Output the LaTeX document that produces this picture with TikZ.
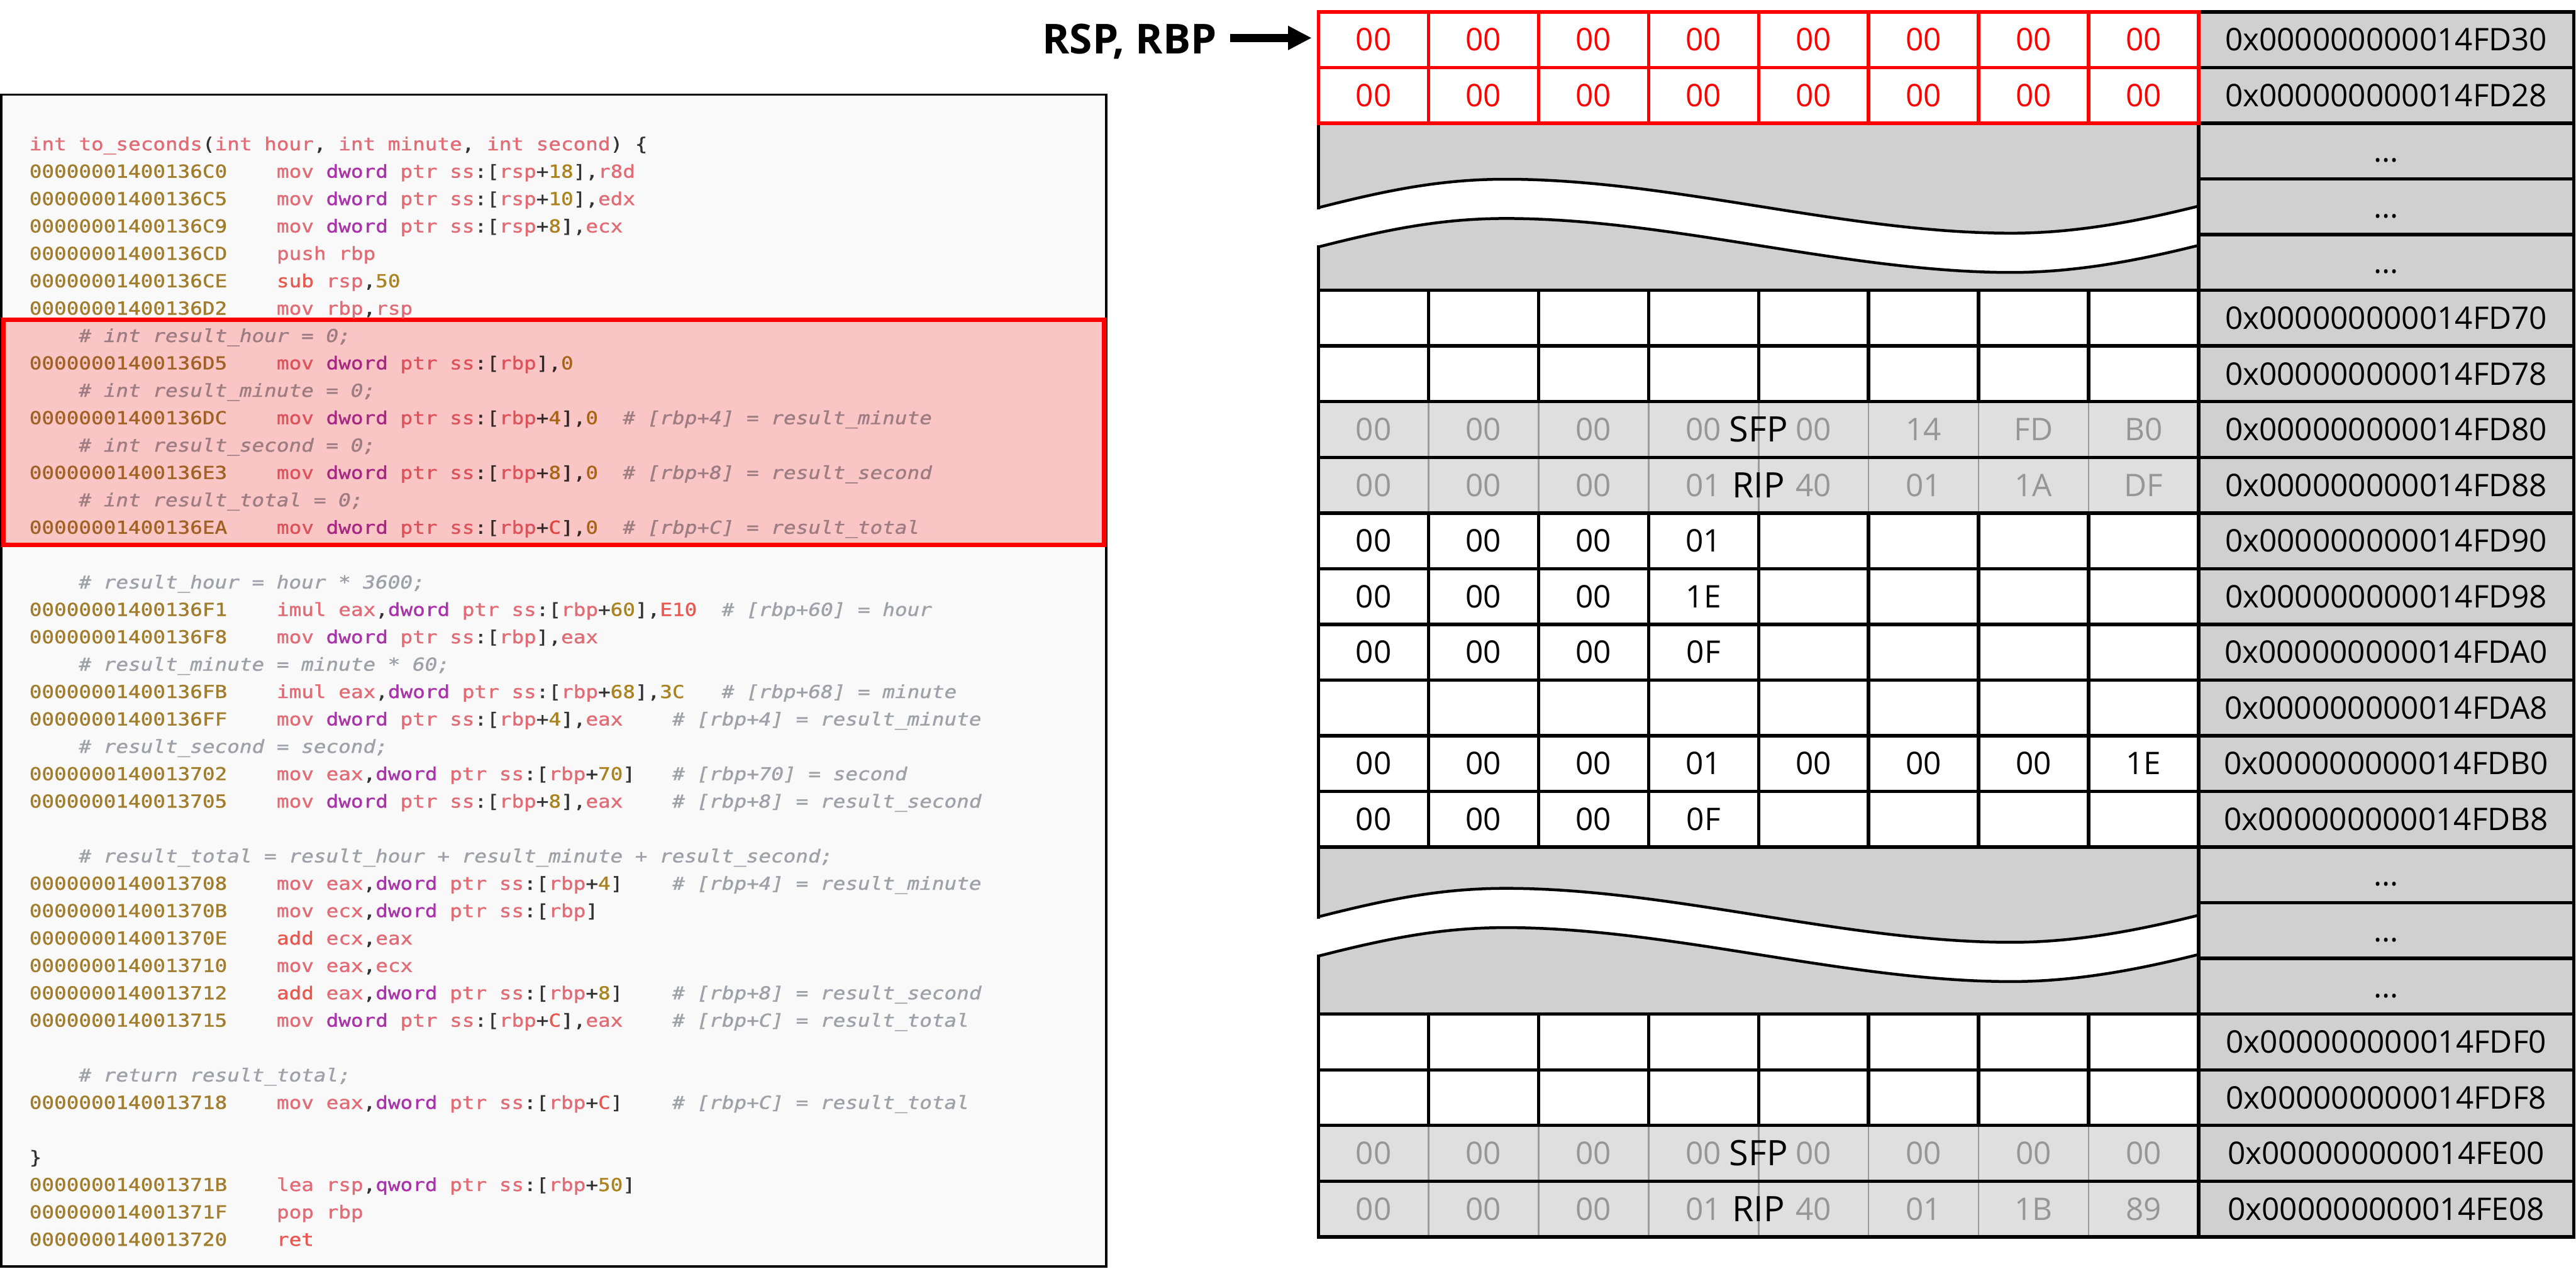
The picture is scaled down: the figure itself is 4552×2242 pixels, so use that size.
\documentclass[tikz,border=0pt]{standalone}
\usepackage{fontspec}
\usetikzlibrary{arrows.meta,calc}
\setmainfont{Open Sans}
\newfontfamily\codefont{DejaVu Sans Mono}[FakeStretch=1.15,FakeBold=1.2]
\frenchspacing

\definecolor{addrO}{RGB}{160,124,44}
\definecolor{kwO}{RGB}{226,108,118}
\definecolor{kwrO}{RGB}{232,88,80}
\definecolor{purO}{RGB}{170,50,170}
\definecolor{numO}{RGB}{170,130,30}
\definecolor{punO}{RGB}{50,50,50}
\definecolor{cmtO}{RGB}{160,160,168}
\definecolor{addrI}{RGB}{160,98,36}
\definecolor{kwI}{RGB}{221,83,91}
\definecolor{kwrI}{RGB}{227,68,62}
\definecolor{purI}{RGB}{167,39,131}
\definecolor{numI}{RGB}{167,100,23}
\definecolor{punI}{RGB}{49,39,39}
\definecolor{cmtI}{RGB}{157,124,130}
\definecolor{panelbg}{RGB}{249,249,249}
\definecolor{pinkbox}{RGB}{250,197,197}
\definecolor{addrgray}{RGB}{208,208,208}
\definecolor{sfpfill}{RGB}{223,223,223}
\definecolor{sfptext}{RGB}{150,150,150}
\definecolor{sfpline}{RGB}{155,155,155}

\newif\ifinbox
\newcommand\codecol[2]{\ifinbox\textcolor{#1I}{#2}\else\textcolor{#1O}{#2}\fi}
\newcommand\cA[1]{\codecol{addr}{#1}}
\newcommand\cK[1]{\codecol{kw}{#1}}
\newcommand\cR[1]{\codecol{kwr}{#1}}
\newcommand\cP[1]{\codecol{pur}{#1}}
\newcommand\cN[1]{\codecol{num}{#1}}
\newcommand\cX[1]{\codecol{pun}{#1}}
\newcommand\cC[1]{\codecol{cmt}{\itshape #1}}
\newcommand\dptr{\cP{dword} \cK{ptr} \cK{ss}\cX{:[}}

\def\TL{2330}\def\TR{3885}\def\AR{4548}\def\CW{194.375}\def\RT{21}\def\RH{98.4}

\tikzset{
  gridline/.style={line width=0.6pt, black, line cap=rect},
  redline/.style={line width=0.6pt, red, line cap=rect},
  grayline/.style={line width=0.3pt, sfpline},
  wavecurve/.style={line width=0.5pt, black},
  codetxt/.style={font=\codefont\fontsize{3.155pt}{3.5pt}\selectfont, inner sep=0pt, anchor=base west},
  celltxt/.style={font=\fontsize{5.5pt}{6pt}\selectfont, inner sep=0pt},
  redtxt/.style={celltxt, text=red},
  graytxt/.style={celltxt, text=sfptext},
  lbltxt/.style={font=\fontsize{6.2pt}{7pt}\selectfont, inner sep=0pt},
  ptrarrow/.style={line width=1.4pt, -{Triangle[length=4.2pt,width=4.0pt]}},
}

\newcommand\CL[3]{\node[codetxt] (cl-#1) at ({50+#2*21.85},{265.6+48.4*#1}) {#3};}
\newcommand\CI[3]{\node[codetxt] (ca-#1) at (50,{265.6+48.4*#1}) {\cA{#2}};
  \node[codetxt] (ci-#1) at ({50+20*21.85},{265.6+48.4*#1}) {#3};}
\newcommand\CM[3]{\node[codetxt] (cm-#1-#2) at ({50+#2*21.85},{265.6+48.4*#1}) {\cC{#3}};}

\newcommand\byterow[3]{\foreach \v [count=\j from 0] in {#3} {\node[#2] (b-#1-\j) at ({\TL+\CW*(\j+0.5)},{\RT+\RH*(#1+0.5)}) {\v};}}

\newcommand\gapblock[2]{%
  \fill[addrgray] (\TL,#1) rectangle (\TR,{#1+295.2});
  \fill[white] ({\TL-4},{#1+(0.417+#2)*295.2}) -- (\TL,{#1+(0.417+#2)*295.2})
    .. controls ({\TL+124},{#1+(0.31+#2)*295.2}) and ({\TL+218},{#1+(0.247+#2)*295.2}) .. ({\TL+331},{#1+(0.247+#2)*295.2})
    .. controls ({\TL+622},{#1+(0.247+#2)*295.2}) and ({\TL+933},{#1+(0.57+#2)*295.2}) .. ({\TL+1224},{#1+(0.57+#2)*295.2})
    .. controls ({\TL+1337},{#1+(0.57+#2)*295.2}) and ({\TL+1446},{#1+(0.50+#2)*295.2}) .. (\TR,{#1+(0.408+#2)*295.2})
    -- (\TR,{#1+(0.643+#2)*295.2})
    .. controls ({\TL+1446},{#1+(0.735+#2)*295.2}) and ({\TL+1337},{#1+(0.805+#2)*295.2}) .. ({\TL+1224},{#1+(0.805+#2)*295.2})
    .. controls ({\TL+933},{#1+(0.805+#2)*295.2}) and ({\TL+622},{#1+(0.482+#2)*295.2}) .. ({\TL+331},{#1+(0.482+#2)*295.2})
    .. controls ({\TL+218},{#1+(0.482+#2)*295.2}) and ({\TL+124},{#1+(0.545+#2)*295.2}) .. (\TL,{#1+(0.652+#2)*295.2})
    -- ({\TL-4},{#1+(0.652+#2)*295.2}) -- cycle;
  \draw[wavecurve] (\TL,{#1+(0.417+#2)*295.2})
    .. controls ({\TL+124},{#1+(0.31+#2)*295.2}) and ({\TL+218},{#1+(0.247+#2)*295.2}) .. ({\TL+331},{#1+(0.247+#2)*295.2})
    .. controls ({\TL+622},{#1+(0.247+#2)*295.2}) and ({\TL+933},{#1+(0.57+#2)*295.2}) .. ({\TL+1224},{#1+(0.57+#2)*295.2})
    .. controls ({\TL+1337},{#1+(0.57+#2)*295.2}) and ({\TL+1446},{#1+(0.50+#2)*295.2}) .. (\TR,{#1+(0.408+#2)*295.2});
  \draw[wavecurve] (\TR,{#1+(0.643+#2)*295.2})
    .. controls ({\TL+1446},{#1+(0.735+#2)*295.2}) and ({\TL+1337},{#1+(0.805+#2)*295.2}) .. ({\TL+1224},{#1+(0.805+#2)*295.2})
    .. controls ({\TL+933},{#1+(0.805+#2)*295.2}) and ({\TL+622},{#1+(0.482+#2)*295.2}) .. ({\TL+331},{#1+(0.482+#2)*295.2})
    .. controls ({\TL+218},{#1+(0.482+#2)*295.2}) and ({\TL+124},{#1+(0.545+#2)*295.2}) .. (\TL,{#1+(0.652+#2)*295.2});
  \draw[gridline] (\TL,#1) -- (\TL,{#1+(0.417+#2)*295.2});
  \draw[gridline] (\TL,{#1+(0.652+#2)*295.2}) -- (\TL,{#1+295.2});
}

\begin{document}
\begin{tikzpicture}[x=0.1pt,y=-0.1pt]
\fill[white] (0,0) rectangle (4552,2242);
\useasboundingbox (0,0) rectangle (4552,2242);

% ---------- code panel ----------
\draw[line width=0.4pt, fill=panelbg] (2,167) rectangle (1955,2238);
\draw[line width=0.7pt, draw=red, fill=pinkbox] (6,565) rectangle (1951,963);

\CL{0}{0}{\cK{int} \cK{to\_seconds}\cX{(}\cK{int} \cK{hour}\cX{,} \cK{int} \cK{minute}\cX{,} \cK{int} \cK{second}\cX{)} \cX{\{}}
\CI{1}{00000001400136C0}{\cK{mov} \dptr\cK{rsp}\cX{+}\cN{18}\cX{],}\cK{r8d}}
\CI{2}{00000001400136C5}{\cK{mov} \dptr\cK{rsp}\cX{+}\cN{10}\cX{],}\cK{edx}}
\CI{3}{00000001400136C9}{\cK{mov} \dptr\cK{rsp}\cX{+}\cN{8}\cX{],}\cK{ecx}}
\CI{4}{00000001400136CD}{\cK{push} \cK{rbp}}
\CI{5}{00000001400136CE}{\cR{sub} \cK{rsp}\cX{,}\cN{50}}
\CI{6}{00000001400136D2}{\cK{mov} \cK{rbp}\cX{,}\cK{rsp}}
\global\inboxtrue
\CM{7}{4}{\# int result\_hour = 0;}
\CI{8}{00000001400136D5}{\cK{mov} \dptr\cK{rbp}\cX{],}\cN{0}}
\CM{9}{4}{\# int result\_minute = 0;}
\CI{10}{00000001400136DC}{\cK{mov} \dptr\cK{rbp}\cX{+}\cN{4}\cX{],}\cN{0}}
\CM{10}{48}{\# [rbp+4] = result\_minute}
\CM{11}{4}{\# int result\_second = 0;}
\CI{12}{00000001400136E3}{\cK{mov} \dptr\cK{rbp}\cX{+}\cN{8}\cX{],}\cN{0}}
\CM{12}{48}{\# [rbp+8] = result\_second}
\CM{13}{4}{\# int result\_total = 0;}
\CI{14}{00000001400136EA}{\cK{mov} \dptr\cK{rbp}\cX{+}\cR{C}\cX{],}\cN{0}}
\CM{14}{48}{\# [rbp+C] = result\_total}
\global\inboxfalse
\CM{16}{4}{\# result\_hour = hour * 3600;}
\CI{17}{00000001400136F1}{\cK{imul} \cK{eax}\cX{,}\dptr\cK{rbp}\cX{+}\cN{60}\cX{],}\cR{E10}}
\CM{17}{56}{\# [rbp+60] = hour}
\CI{18}{00000001400136F8}{\cK{mov} \dptr\cK{rbp}\cX{],}\cK{eax}}
\CM{19}{4}{\# result\_minute = minute * 60;}
\CI{20}{00000001400136FB}{\cK{imul} \cK{eax}\cX{,}\dptr\cK{rbp}\cX{+}\cN{68}\cX{],}\cN{3C}}
\CM{20}{56}{\# [rbp+68] = minute}
\CI{21}{00000001400136FF}{\cK{mov} \dptr\cK{rbp}\cX{+}\cN{4}\cX{],}\cK{eax}}
\CM{21}{52}{\# [rbp+4] = result\_minute}
\CM{22}{4}{\# result\_second = second;}
\CI{23}{0000000140013702}{\cK{mov} \cK{eax}\cX{,}\dptr\cK{rbp}\cX{+}\cN{70}\cX{]}}
\CM{23}{52}{\# [rbp+70] = second}
\CI{24}{0000000140013705}{\cK{mov} \dptr\cK{rbp}\cX{+}\cN{8}\cX{],}\cK{eax}}
\CM{24}{52}{\# [rbp+8] = result\_second}
\CM{26}{4}{\# result\_total = result\_hour + result\_minute + result\_second;}
\CI{27}{0000000140013708}{\cK{mov} \cK{eax}\cX{,}\dptr\cK{rbp}\cX{+}\cN{4}\cX{]}}
\CM{27}{52}{\# [rbp+4] = result\_minute}
\CI{28}{000000014001370B}{\cK{mov} \cK{ecx}\cX{,}\dptr\cK{rbp}\cX{]}}
\CI{29}{000000014001370E}{\cR{add} \cK{ecx}\cX{,}\cK{eax}}
\CI{30}{0000000140013710}{\cK{mov} \cK{eax}\cX{,}\cK{ecx}}
\CI{31}{0000000140013712}{\cR{add} \cK{eax}\cX{,}\dptr\cK{rbp}\cX{+}\cN{8}\cX{]}}
\CM{31}{52}{\# [rbp+8] = result\_second}
\CI{32}{0000000140013715}{\cK{mov} \dptr\cK{rbp}\cX{+}\cR{C}\cX{],}\cK{eax}}
\CM{32}{52}{\# [rbp+C] = result\_total}
\CM{34}{4}{\# return result\_total;}
\CI{35}{0000000140013718}{\cK{mov} \cK{eax}\cX{,}\dptr\cK{rbp}\cX{+}\cR{C}\cX{]}}
\CM{35}{52}{\# [rbp+C] = result\_total}
\CL{37}{0}{\cX{\}}}
\CI{38}{000000014001371B}{\cK{lea} \cK{rsp}\cX{,}\cP{qword} \cK{ptr} \cK{ss}\cX{:[}\cK{rbp}\cX{+}\cN{50}\cX{]}}
\CI{39}{000000014001371F}{\cK{pop} \cK{rbp}}
\CI{40}{0000000140013720}{\cR{ret}}

% ---------- stack table ----------
\fill[addrgray] (\TR,\RT) rectangle (\AR,{\RT+22*\RH});
\gapblock{217.8}{0.088}
\gapblock{1497}{0}

\foreach \i in {7,8,20,21} {
  \fill[sfpfill] (\TL,{\RT+\RH*\i}) rectangle (\TR,{\RT+\RH*(\i+1)});
  \foreach \j in {1,...,7} \draw[grayline] ({\TL+\CW*\j},{\RT+\RH*\i}) -- ++(0,\RH);
}

\foreach \j in {1,...,7} {
  \draw[gridline] ({\TL+\CW*\j},{\RT+5*\RH}) -- ++(0,2*\RH);
  \draw[gridline] ({\TL+\CW*\j},{\RT+9*\RH}) -- ++(0,6*\RH);
  \draw[gridline] ({\TL+\CW*\j},{\RT+18*\RH}) -- ++(0,2*\RH);
}
\draw[gridline] (\TL,{\RT+5*\RH}) -- (\TL,{\RT+15*\RH});
\draw[gridline] (\TL,{\RT+18*\RH}) -- (\TL,{\RT+22*\RH});
\draw[gridline] (\TR,\RT) -- (\TR,{\RT+22*\RH});
\draw[gridline] (\AR,\RT) -- (\AR,{\RT+22*\RH});
\foreach \i in {0,...,22} \draw[gridline] (\TR,{\RT+\RH*\i}) -- (\AR,{\RT+\RH*\i});
\foreach \i in {5,6,7,8,9,10,11,12,13,14,15,18,19,20,21,22} \draw[gridline] (\TL,{\RT+\RH*\i}) -- (\TR,{\RT+\RH*\i});

\fill[white] (\TL,\RT) rectangle (\TR,{\RT+2*\RH});
\foreach \j in {0,...,8} \draw[redline] ({\TL+\CW*\j},\RT) -- ++(0,2*\RH);
\foreach \i in {0,1,2} \draw[redline] (\TL,{\RT+\RH*\i}) -- (\TR,{\RT+\RH*\i});

\byterow{0}{redtxt}{00,00,00,00,00,00,00,00}
\byterow{1}{redtxt}{00,00,00,00,00,00,00,00}
\byterow{7}{graytxt}{00,00,00,00,00,14,FD,B0}
\byterow{8}{graytxt}{00,00,00,01,40,01,1A,DF}
\byterow{9}{celltxt}{00,00,00,01}
\byterow{10}{celltxt}{00,00,00,1E}
\byterow{11}{celltxt}{00,00,00,0F}
\byterow{13}{celltxt}{00,00,00,01,00,00,00,1E}
\byterow{14}{celltxt}{00,00,00,0F}
\byterow{20}{graytxt}{00,00,00,00,00,00,00,00}
\byterow{21}{graytxt}{00,00,00,01,40,01,1B,89}

\node[lbltxt] (sfp-a) at ({\TL+4*\CW},{\RT+7.5*\RH}) {SFP};
\node[lbltxt] (rip-a) at ({\TL+4*\CW},{\RT+8.5*\RH}) {RIP};
\node[lbltxt] (sfp-b) at ({\TL+4*\CW},{\RT+20.5*\RH}) {SFP};
\node[lbltxt] (rip-b) at ({\TL+4*\CW},{\RT+21.5*\RH}) {RIP};

\foreach \i/\a in {0/FD30,1/FD28,5/FD70,6/FD78,7/FD80,8/FD88,9/FD90,10/FD98,11/FDA0,12/FDA8,13/FDB0,14/FDB8,18/FDF0,19/FDF8,20/FE00,21/FE08}
  \node[celltxt] (addr-\i) at ({(\TR+\AR)/2},{\RT+\RH*(\i+0.5)}) {0x000000000014\a};
\foreach \i in {2,3,4,15,16,17}
  \node[celltxt] (addr-\i) at ({(\TR+\AR)/2},{\RT+\RH*(\i+0.5)}) {\vphantom{0}...};

% ---------- pointer label ----------
\node[font=\bfseries\fontsize{7.3pt}{8pt}\selectfont, inner sep=0pt, anchor=base west] (rsplbl) at (1840,95) {RSP, RBP};
\coordinate (ptrfrom) at (2174,67);
\coordinate (ptrto) at (2318,67);
\draw[ptrarrow] (ptrfrom) -- (ptrto);
\end{tikzpicture}
\end{document}
